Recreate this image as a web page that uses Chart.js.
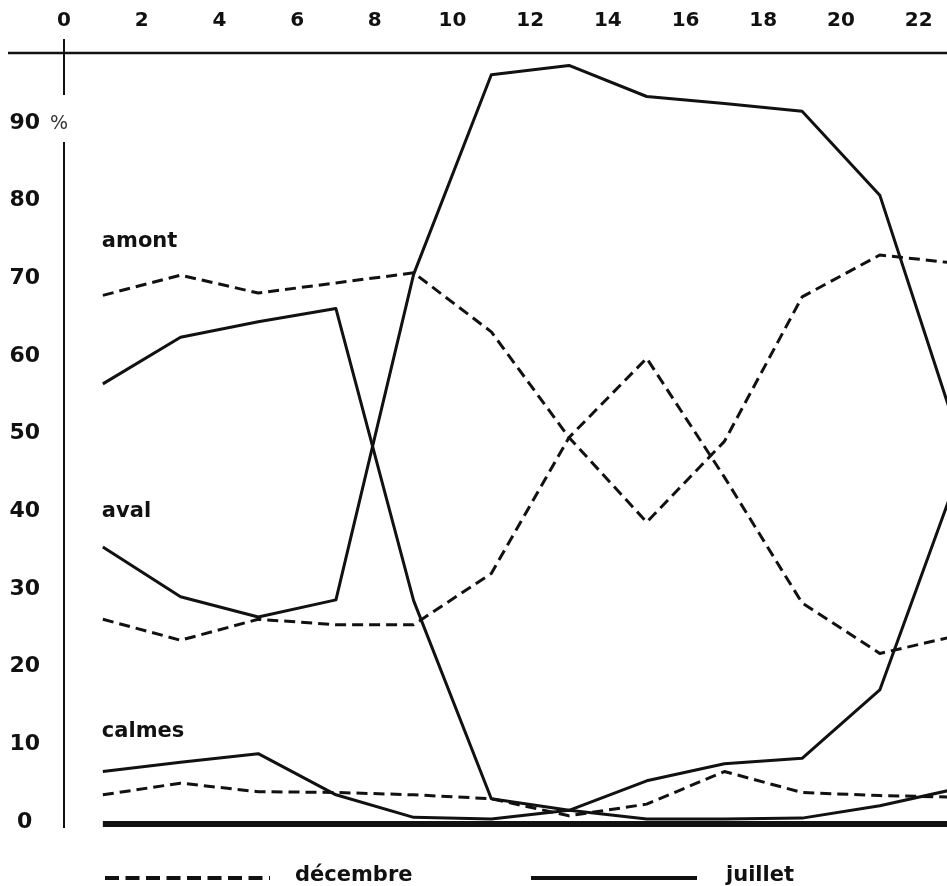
<!DOCTYPE html>
<html><head><meta charset="utf-8">
<script src="https://cdn.jsdelivr.net/npm/chart.js@4.4.1/dist/chart.umd.min.js"></script>
<style>html,body{margin:0;padding:0;background:#fff}#wrap{width:947px;height:886px;position:relative}</style>
</head><body><div id="wrap"><canvas id="c"></canvas></div>
<script>
// ---- data ----
const hours = [1, 3, 5, 7, 9, 11, 13, 15, 17, 19, 21, 23];
const xTicks = [0, 2, 4, 6, 8, 10, 12, 14, 16, 18, 20, 22];
const yTicks = [0, 10, 20, 30, 40, 50, 60, 70, 80, 90];

const amontJuillet  = [56.4, 62.4, 64.4, 66.1, 28.5, 3.0, 1.5, 5.3, 7.5, 8.2, 17.0, 44.5];
const avalJuillet   = [35.4, 29.0, 26.4, 28.6, 70.5, 96.2, 97.4, 93.4, 92.5, 91.5, 80.7, 50.0];
const calmesJuillet = [6.5, 7.7, 8.8, 3.5, 0.6, 0.4, 1.5, 0.4, 0.4, 0.5, 2.1, 4.3];

const amontDecembre  = [67.8, 70.4, 68.1, 69.4, 70.7, 63.1, 49.5, 38.6, 49.0, 67.6, 73.0, 71.9];
const avalDecembre   = [26.1, 23.4, 26.1, 25.4, 25.4, 32.0, 49.5, 59.7, 44.4, 28.2, 21.7, 24.0];
const calmesDecembre = [3.5, 5.0, 3.9, 3.8, 3.5, 3.0, 0.8, 2.3, 6.5, 3.8, 3.4, 3.2];

const seriesNames = ['amont', 'aval', 'calmes'];
const legendNames = ['décembre', 'juillet'];
const unitLabel = '%';

// ---- style ----
const FONT = "'DejaVu Sans', 'Liberation Sans', sans-serif";
const INK = '#111';
const DASH = [11, 6];

function pts(vals) { return hours.map((h, i) => ({ x: h, y: vals[i] })); }
function ds(label, vals, dashed) {
  return {
    label, data: pts(vals), borderColor: INK, borderWidth: 3,
    borderDash: dashed ? DASH : [], pointRadius: 0, tension: 0, fill: false,
    borderJoinStyle: 'round', borderCapStyle: 'butt'
  };
}

const seriesLabelPos = [ {x: 1, y: 74.0}, {x: 1, y: 39.3}, {x: 1, y: 10.9} ];

const decor = {
  id: 'decor',
  beforeDatasetsDraw(chart) {
    const { ctx, scales: { x, y }, chartArea: a } = chart;
    ctx.save();
    ctx.strokeStyle = INK;
    ctx.lineCap = 'butt';
    // top horizontal axis
    ctx.lineWidth = 2.5;
    ctx.beginPath(); ctx.moveTo(8, a.top); ctx.lineTo(chart.width, a.top); ctx.stroke();
    // vertical axis with gap at the % label
    const x0 = x.getPixelForValue(0);
    const y90 = y.getPixelForValue(90);
    ctx.lineWidth = 2;
    ctx.beginPath();
    ctx.moveTo(x0, a.top - 14); ctx.lineTo(x0, y90 - 28);
    ctx.moveTo(x0, y90 + 19); ctx.lineTo(x0, a.bottom - 2);
    ctx.stroke();
    // thick zero baseline
    ctx.lineWidth = 6;
    const yb = y.getPixelForValue(-0.25);
    ctx.beginPath(); ctx.moveTo(x.getPixelForValue(hours[0]), yb); ctx.lineTo(a.right, yb); ctx.stroke();
    // % sign
    ctx.fillStyle = '#333';
    ctx.font = "19px " + FONT;
    ctx.textAlign = 'center'; ctx.textBaseline = 'middle';
    ctx.fillText(unitLabel, x0 - 5, y90 + 1);
    // series labels
    ctx.fillStyle = INK;
    ctx.font = "bold 21px " + FONT;
    ctx.textAlign = 'left'; ctx.textBaseline = 'alphabetic';
    seriesNames.forEach((n, i) => {
      ctx.fillText(n, x.getPixelForValue(seriesLabelPos[i].x) - 1, y.getPixelForValue(seriesLabelPos[i].y));
    });
    ctx.restore();
  },
  afterDraw(chart) {
    const { ctx } = chart;
    ctx.save();
    ctx.strokeStyle = INK;
    // legend: dashed
    ctx.lineWidth = 4;
    ctx.setLineDash([14, 6.5]);
    ctx.beginPath(); ctx.moveTo(105, 878); ctx.lineTo(270, 878); ctx.stroke();
    ctx.setLineDash([]);
    ctx.lineWidth = 4;
    ctx.beginPath(); ctx.moveTo(531, 878); ctx.lineTo(697, 878); ctx.stroke();
    ctx.fillStyle = INK;
    ctx.font = "bold 21px " + FONT;
    ctx.textAlign = 'left'; ctx.textBaseline = 'alphabetic';
    ctx.fillText(legendNames[0], 295, 881);
    ctx.fillText(legendNames[1], 726, 881);
    ctx.restore();
  }
};

new Chart(document.getElementById('c'), {
  type: 'line',
  data: {
    datasets: [
      ds('amont juillet', amontJuillet, false),
      ds('aval juillet', avalJuillet, false),
      ds('calmes juillet', calmesJuillet, false),
      ds('amont décembre', amontDecembre, true),
      ds('aval décembre', avalDecembre, true),
      ds('calmes décembre', calmesDecembre, true)
    ]
  },
  options: {
    responsive: true, maintainAspectRatio: false, animation: false,
    layout: { padding: { top: 0, left: 0, right: 0, bottom: 56 } },
    plugins: { legend: { display: false }, tooltip: { enabled: false } },
    scales: {
      x: {
        type: 'linear', position: 'top', min: 0, max: 22.73,
        afterBuildTicks(s) { s.ticks = xTicks.map(v => ({ value: v })); },
        afterFit(s) { s.height = 53; s.paddingLeft = 0; s.paddingRight = 0; },
        grid: { display: false, drawTicks: false },
        border: { display: false },
        ticks: { color: INK, padding: 20, maxRotation: 0, autoSkip: false,
          font: { family: FONT, size: 20, weight: 'bold' } }
      },
      y: {
        type: 'linear', min: -1.03, max: 99.0,
        afterBuildTicks(s) { s.ticks = yTicks.map(v => ({ value: v })); },
        afterFit(s) { s.width = 64; s.paddingTop = 0; s.paddingBottom = 0; },
        grid: { display: false, drawTicks: false },
        border: { display: false },
        ticks: { color: INK, padding: 24, crossAlign: 'center', autoSkip: false,
          font: { family: FONT, size: 22, weight: 'bold' } }
      }
    }
  },
  plugins: [decor]
});
</script></body></html>
